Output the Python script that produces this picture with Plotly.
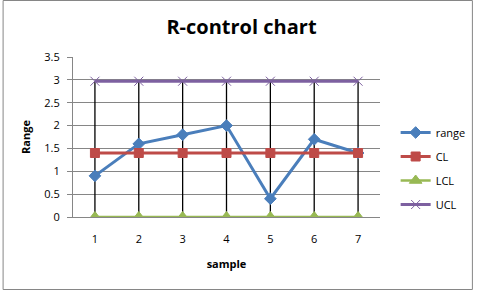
import plotly.graph_objects as go

samples = [1, 2, 3, 4, 5, 6, 7]
range_vals = [0.9, 1.6, 1.8, 2.0, 0.4, 1.7, 1.4]
cl_vals = [1.4, 1.4, 1.4, 1.4, 1.4, 1.4, 1.4]
lcl_vals = [0, 0, 0, 0, 0, 0, 0]
ucl_vals = [2.97, 2.97, 2.97, 2.97, 2.97, 2.97, 2.97]
y_ticks = [0, 0.5, 1, 1.5, 2, 2.5, 3, 3.5]
y_tick_text = ["0", "0.5", "1", "1.5", "2", "2.5", "3", "3.5"]

W, H = 483, 291
L, R, T, B = 73, 96, 57, 74
pw, ph = W - L - R, H - T - B

font = "Open Sans, Liberation Sans, sans-serif"

fig = go.Figure()

# high-low lines
hx, hy = [], []
for i, s in enumerate(samples):
    vals = [range_vals[i], cl_vals[i], lcl_vals[i], ucl_vals[i]]
    hx += [s, s, None]
    hy += [min(vals), max(vals), None]
fig.add_trace(go.Scatter(x=hx, y=hy, mode="lines", line=dict(color="black", width=1.3),
                         showlegend=False, hoverinfo="skip"))

series = [
    ("range", range_vals, "#4A7EBB", "diamond", 9, 3),
    ("CL", cl_vals, "#BE4B48", "square", 9, 3),
    ("LCL", lcl_vals, "#98B954", "triangle-up", 11, 2.5),
    ("UCL", ucl_vals, "#7D60A0", "x-thin", 9, 3),
]
for name, vals, color, sym, ms, lw in series:
    fig.add_trace(go.Scatter(
        x=samples, y=vals, name=name, mode="lines+markers",
        line=dict(color=color, width=lw),
        marker=dict(symbol=sym, size=ms, color=color,
                    line=dict(color=color, width=1)),
        legendgroup=name,
    ))

fig.update_layout(
    width=W, height=H,
    margin=dict(l=L, r=R, t=T, b=B),
    paper_bgcolor="white", plot_bgcolor="white",
    title=dict(text="<b>R-control chart</b>", x=0.5, xanchor="center",
               y=1 - 27 / H, yanchor="middle",
               font=dict(family=font, size=20, color="black")),
    font=dict(family=font, size=11, color="black"),
    xaxis=dict(range=[0.5, 7.5], tickmode="array", tickvals=samples,
               ticktext=[str(s) for s in samples], showgrid=False,
               showline=True, linecolor="#868686", linewidth=1,
               ticks="", zeroline=False, ticklabelstandoff=12,
               title=dict(text="<b>sample</b>", font=dict(size=11), standoff=15),
               fixedrange=True),
    yaxis=dict(range=[0, 3.5], tickmode="array", tickvals=y_ticks,
               ticktext=y_tick_text, showgrid=True, gridcolor="#868686",
               gridwidth=1, showline=True, linecolor="#868686", linewidth=1,
               ticks="outside", ticklen=5, tickcolor="#868686",
               zeroline=False, ticklabelstandoff=5,
               title=dict(text="<b>Range</b>", font=dict(size=11), standoff=11),
               fixedrange=True),
    legend=dict(x=(403 - L) / pw, y=(217 - 118) / ph, xanchor="left", yanchor="top",
                font=dict(size=11), itemwidth=30, tracegroupgap=5,
                traceorder="grouped", bgcolor="rgba(0,0,0,0)"),
    shapes=[dict(type="rect", xref="paper", yref="paper",
                 x0=(1.5 - L) / pw, x1=(481.5 - L) / pw,
                 y0=(217 - 289.5) / ph, y1=(217 - 0.5) / ph,
                 line=dict(color="#868686", width=1), fillcolor="rgba(0,0,0,0)",
                 layer="below")],
)

fig.write_html("out.html")
